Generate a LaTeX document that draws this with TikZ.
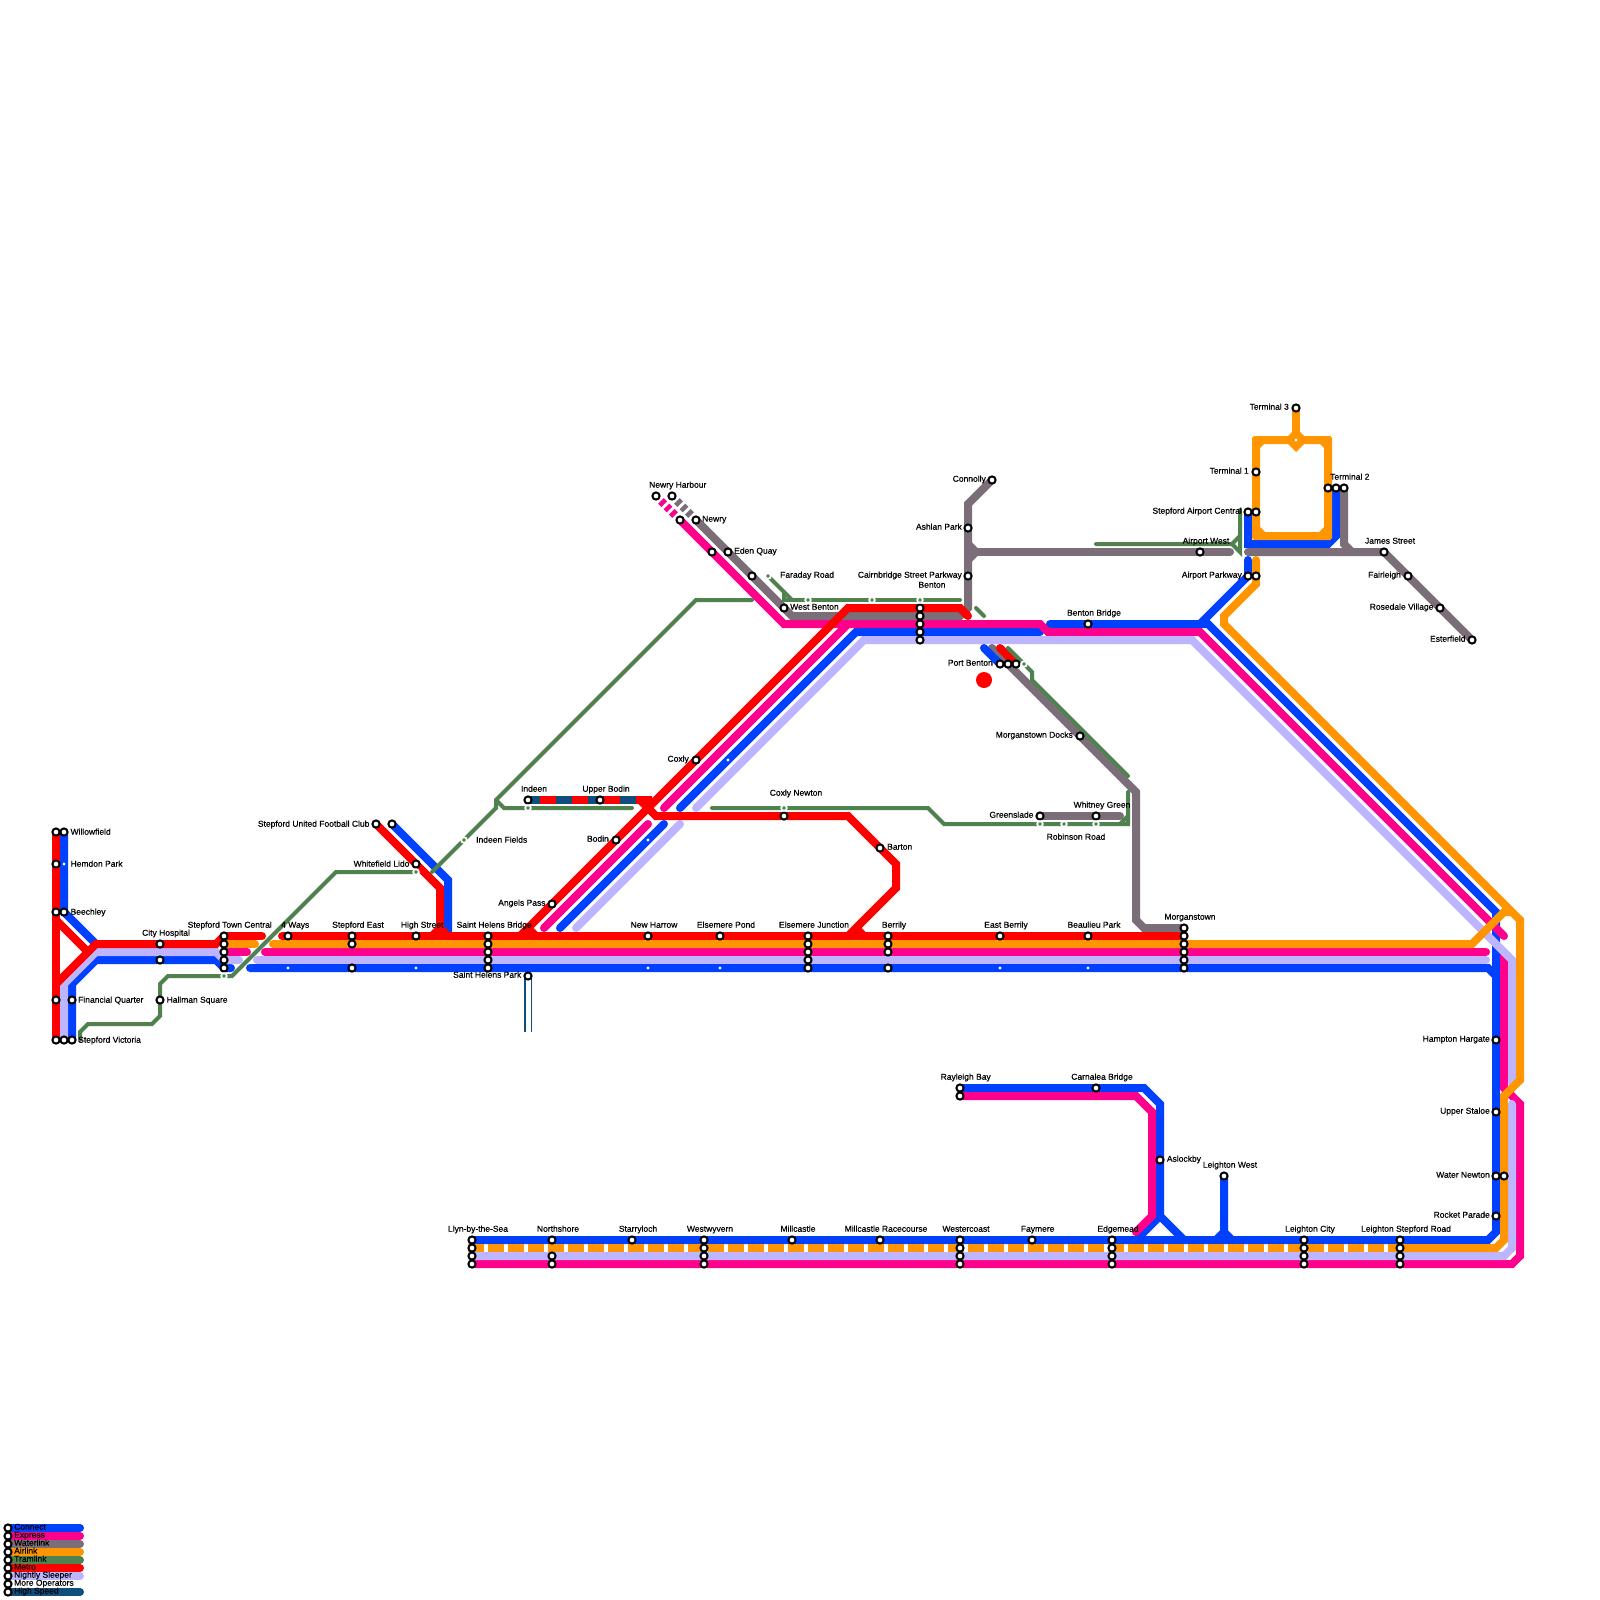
\documentclass[tikz,border=0pt]{standalone}
\usepackage{fontspec}
\setmainfont{Liberation Sans}[FakeBold=0.45]
\pgfdeclarelayer{lines}
\pgfsetlayers{lines,main}
\definecolor{conn}{HTML}{0040FF}
\definecolor{expr}{HTML}{FF008C}
\definecolor{watr}{HTML}{7C6E78}
\definecolor{airl}{HTML}{FF9500}
\definecolor{tram}{HTML}{50824F}
\definecolor{metr}{HTML}{FF0000}
\definecolor{slee}{HTML}{BDB5FF}
\definecolor{hisp}{HTML}{104E7E}
\newcounter{lblc}\newcounter{dotc}
\newcommand\lbl[4]{\stepcounter{lblc}\node[lab,anchor=#1] (lbl\arabic{lblc}) at (#2,#3) {#4};}
\newcommand\wdot[2]{\stepcounter{dotc}\node[wdotst] (dot\arabic{dotc}) at (#1,#2) {};}
\newcommand\tdot[2]{\stepcounter{dotc}\node[tdotst] (dot\arabic{dotc}) at (#1,#2) {};}
\newcommand\stack[3]{\foreach \yy/\nn in {#3}{\node[stn] (#1\nn) at (#2,\yy) {};}}
\tikzset{
 stn/.style={circle,draw=black,fill=white,line width=2,minimum size=7.2,inner sep=0},
 wdotst/.style={circle,fill=white,minimum size=3.2,inner sep=0},
 tdotst/.style={circle,fill=tram,draw=white,line width=1.8,minimum size=5.6,inner sep=0},
 lab/.style={inner sep=0,yshift=-0.5pt,text height=6.2,text depth=1.8,font=\fontsize{8.5}{10}\selectfont,text=black},
 ln/.style={line width=8,line join=miter,line cap=round,miter limit=10},
 blue/.style={ln,draw=conn},
 pink/.style={ln,draw=expr},
 grey/.style={ln,draw=watr},
 oran/.style={ln,draw=airl},
 redl/.style={ln,draw=metr},
 lave/.style={ln,draw=slee},
 trl/.style={line width=4,line join=miter,line cap=round,draw=tram},
 navy/.style={ln,draw=hisp},
}
\begin{document}
\begin{tikzpicture}[x=1pt,y=-1pt]
\useasboundingbox (0,0) rectangle (1600,1600);
% ---- stations
\stack{wf}{56}{832/a}\stack{wf}{64}{832/b}
\stack{he}{56}{864/a}
\stack{be}{56}{912/a}\stack{be}{64}{912/b}
\stack{fq}{56}{1000/a}\stack{fq}{72}{1000/b}
\stack{sv}{56}{1040/a}\stack{sv}{64}{1040/b}\stack{sv}{72}{1040/c}
\stack{ch}{160}{944/a,960/b}
\stack{st}{224}{936/a,944/b,952/c,960/d,968/e}
\stack{hs}{160}{1000/a}
\stack{wa}{288}{936/a}
\stack{se}{352}{936/a,944/b,968/c}
\stack{hi}{416}{936/a}
\stack{sh}{488}{936/a,944/b,952/c,960/d,968/e}
\stack{sp}{528}{976/a}
\stack{su}{376}{824/a}\stack{su}{392}{824/b}
\stack{wl}{416}{864/a}
\stack{nw}{648}{936/a}
\stack{ep}{720}{936/a}
\stack{ej}{808}{936/a,944/b,952/c,960/d,968/e}
\stack{br}{888}{936/a,944/b,952/c,968/e}
\stack{eb}{1000}{936/a}
\stack{bp}{1088}{936/a}
\stack{mo}{1184}{928/z,936/a,944/b,952/c,960/d,968/e}
\stack{in}{528}{800/a}
\stack{ub}{600}{800/a}
\stack{bo}{616}{840/a}
\stack{ap}{552}{904/a}
\stack{co}{696}{760/a}
\stack{cn}{784}{816/a}
\stack{ba}{880}{848/a}
\stack{nh}{656}{496/a}\stack{nh}{672}{496/b}
\stack{ny}{680}{520/a}\stack{ny}{696}{520/b}
\stack{eq}{712}{552/a}\stack{eq}{728}{552/b}
\stack{fr}{752}{576/a}
\stack{wb}{784}{608/a}
\stack{bn}{920}{608/a,616/b,624/c,632/d,640/e}
\stack{cl}{992}{480/a}
\stack{as}{968}{528/a}
\stack{cs}{968}{576/a}
\stack{pb}{1000}{664/a}\stack{pb}{1008}{664/b}\stack{pb}{1016}{664/c}
\stack{md}{1080}{736/a}
\stack{gs}{1040}{816/a}
\stack{wg}{1096}{816/a}
\stack{bb}{1088}{624/a}
\stack{aw}{1200}{552/a}
\stack{sa}{1248}{512/a}\stack{sa}{1256}{512/b}
\stack{pk}{1248}{576/a}\stack{pk}{1256}{576/b}
\stack{tt}{1256}{472/a}
\stack{tc}{1296}{408/a}
\stack{td}{1328}{488/a}\stack{td}{1336}{488/b}\stack{td}{1344}{488/c}
\stack{js}{1384}{552/a}
\stack{fa}{1408}{576/a}
\stack{rv}{1440}{608/a}
\stack{es}{1472}{640/a}
\stack{hh}{1496}{1040/a}
\stack{us}{1496}{1112/a}
\stack{wn}{1496}{1176/a}\stack{wn}{1504}{1176/b}
\stack{rp}{1496}{1216/a}
\stack{al}{1160}{1160/a}
\stack{lw}{1224}{1176/a}
\stack{cb}{1096}{1088/a}
\stack{rb}{960}{1088/a,1096/b}
\stack{ll}{472}{1240/a,1248/b,1256/c,1264/d}
\stack{ns}{552}{1240/a,1256/c,1264/d}
\stack{sl}{632}{1240/a}
\stack{ww}{704}{1240/a,1248/b,1256/c,1264/d}
\stack{mc}{792}{1240/a}
\stack{mr}{880}{1240/a}
\stack{wc}{960}{1240/a,1248/b,1256/c,1264/d}
\stack{fy}{1032}{1240/a}
\stack{em}{1112}{1240/a,1248/b,1256/c,1264/d}
\stack{lc}{1304}{1240/a,1248/b,1256/c,1264/d}
\stack{lr}{1400}{1240/a,1248/b,1256/c,1264/d}
% legend
\stack{k}{8}{1528/a,1536/b,1544/c,1552/d,1560/e,1568/f,1576/g,1584/h,1592/i}
% ---- lines
\begin{pgfonlayer}{lines}
\fill[white] (0,0) rectangle (1600,1600);
% connect
\draw[blue] (wfb.center) -- (beb.center) -- (96,944);
\draw[blue] (svc.center) -- (72,984) -- (96,960) -- (216,960) -- (ste.center) -- (231,968);
\draw[blue] (250,968) -- (1488,968) -- (1496,976);
\draw[blue] (sub.center) -- (448,880) -- (448,932);
\draw[blue] (560,928) -- (664,824);
\draw[blue] (680,808) -- (856,632) -- (1040,632);
\draw[blue] (1050,624) -- (1208,624) -- (1496,912) -- (1496,1232) -- (1488,1240) -- (lla.center);
\draw[blue] (pka.center) -- (1248,560);
\draw[blue] (pka.center) -- (1200,624);
\draw[blue] (saa.center) -- (1248,544) -- (1328,544) -- (1336,536) -- (tdb.center);
\draw[blue] (rba.center) -- (1144,1088) -- (1160,1104) -- (1160,1216) -- (1136,1240);
\draw[blue,line cap=butt] (1160,1216) -- (1184,1240);
\draw[blue,line cap=butt] (lwa.center) -- (1224,1232) -- (1216,1240);
\draw[blue,line cap=butt] (1224,1232) -- (1232,1240);
% express
\draw[pink] (265,952) -- (1486,952);
\draw[pink] (stc.center) -- (247,952);
\draw[pink] (nya.center) -- (784,624) -- (1040,624) -- (1048,632) -- (1200,632) -- (1504,936);
\draw[pink] (1504,952) -- (1504,1088) -- (1520,1104) -- (1520,1256) -- (1512,1264) -- (lld.center);
\draw[pink] (848,624) -- (664,808);
\draw[pink] (648,824) -- (544,928);
\draw[pink] (rbb.center) -- (1136,1096) -- (1152,1112) -- (1152,1216) -- (1136,1232);
\draw[pink,line cap=butt,dash pattern=on 0pt off 7pt on 4.5pt off 3.2pt on 4.5pt off 3.2pt on 4.5pt off 99pt] (nha.center) -- (nya.center);
% nightly sleeper
\draw[lave] (svb.center) -- (64,984) -- (96,952) -- (216,952) -- (std.center) -- (239,960);
\draw[lave] (257,960) -- (1486,960);
\draw[lave] (696,808) -- (864,640) -- (1192,640) -- (1512,960) -- (1512,1082);
\draw[lave] (680,824) -- (576,928);
\draw[lave] (1512,1104) -- (1512,1248) -- (1504,1256) -- (llc.center);
% waterlink
\draw[grey] (nyb.center) -- (792,616) -- (960,616) -- (968,608) -- (968,504) -- (cla.center);
\draw[grey,line cap=butt,dash pattern=on 0pt off 7pt on 4.5pt off 3.2pt on 4.5pt off 3.2pt on 4.5pt off 99pt] (nhb.center) -- (nyb.center);
\draw[grey,line cap=butt] (968,544) -- (976,552);
\draw[grey,line cap=butt] (968,560) -- (976,552);
\draw[grey] (976,552) -- (1230,552);
\draw[grey] (1248,552) -- (jsa.center) -- (esa.center);
\draw[grey,line cap=butt] (tdc.center) -- (1344,544) -- (1352,552);
\draw[grey] (992,648) -- (1136,792) -- (1136,920) -- (1144,928) -- (moz.center);
\draw[grey] (gsa.center) -- (1120,816);
% airlink
\draw[oran] (stb.center) -- (255,944);
\draw[oran] (273,944) -- (1472,944) -- (1504,912) -- (1512,912);
\draw[oran] (1256,560) -- (1256,584) -- (1224,616) -- (1224,624) -- (1520,920) -- (1520,1080) -- (1504,1096) -- (1504,1240) -- (1496,1248) -- (lrb.center);
\draw[oran,line cap=butt,dash pattern=on 16pt off 4pt] (468,1248) -- (lrb.center);
\fill[airl,even odd rule] (1254,436) -- (1330,436) -- (1332,438) -- (1332,538) -- (1330,540) -- (1254,540) -- (1252,538) -- (1252,438) -- cycle
 (1264,444) -- (1320,444) -- (1324,448) -- (1324,527) -- (1319,532) -- (1265,532) -- (1260,527) -- (1260,448) -- cycle;
\draw[oran,line cap=butt] (tca.center) -- (1296,440);
\fill[airl] (1288,436) -- (1296,428) -- (1304,436) -- (1304,444) -- (1296,452) -- (1288,444) -- cycle;
% high speed
\draw[navy,line cap=butt] (spa.center) -- (528,1032);
\draw[white,line width=5,line cap=butt] (spa.center) -- (528,1032);
\draw[navy,line cap=butt] (ina.center) -- (652,800);
\draw[redl,line cap=butt,dash pattern=on 16pt off 16pt] (540,800) -- (652,800);
% metro
\draw[redl] (wfa.center) -- (sva.center);
\draw[redl,line cap=butt] (56,920) -- (88,952);
\draw[redl,line cap=butt] (56,984) -- (96,944) -- (216,944) -- (sta.center);
\draw[redl] (282,936) -- (moa.center);
\draw[redl] (sta.center) -- (262,936);
\draw[redl] (sua.center) -- (440,888) -- (440,928) -- (432,936);
\draw[redl,line cap=butt] (440,928) -- (448,936);
\draw[redl,line cap=butt] (968,616) -- (960,608) -- (848,608) -- (520,936);
\draw[redl] (968,616) -- (960,608);
\draw[redl,line cap=butt] (528,928) -- (536,936);
\draw[redl,line cap=butt] (640,800) -- (656,816) -- (848,816) -- (896,864) -- (896,888) -- (848,936);
\draw[redl,line cap=butt] (856,928) -- (864,936);
\draw[redl] (pbc.center) -- (1000,648);
\draw[blue] (pba.center) -- (984,648);
\fill[metr] (984,680) circle (8);
% tramlink
\draw[trl] (svc.center) ++(8,0) -- (80,1032) -- (88,1024) -- (152,1024) -- (160,1016) -- (160,984) -- (168,976) -- (232,976) -- (336,872) -- (416,872);
\draw[trl] (432,872) -- (496,808) -- (496,800) -- (696,600) -- (752,600);
\draw[trl] (496,800) -- (504,808) -- (632,808);
\draw[trl] (712,808) -- (928,808) -- (944,824) -- (1128,824) -- (1128,792);
\draw[trl,line cap=butt] (1120,824) -- (1128,816);
\draw[trl] (768,576) -- (792,600);
\draw[trl] (784,600) -- (784,592);
\draw[trl] (784,600) -- (960,600);
\draw[trl] (976,608) -- (984,616);
\draw[trl] (1008,648) -- (1032,672) -- (1032,680) -- (1128,776);
\draw[trl] (1096,544) -- (1232,544) -- (1240,536);
\draw[trl] (1232,544) -- (1240,552) -- (1240,510);
% legend bars
\foreach \yy/\cc in {1528/conn,1536/expr,1544/watr,1552/airl,1560/tram,1568/metr,1576/slee,1592/hisp}{\draw[ln,draw=\cc] (8,\yy) -- (80,\yy);}
\end{pgfonlayer}
% ---- interchange dots
\wdot{64}{864}\wdot{288}{968}\wdot{416}{968}\wdot{648}{968}\wdot{720}{968}\wdot{1000}{968}\wdot{1088}{968}
\wdot{648}{840}\wdot{728}{760}\wdot{1296}{440}
\tdot{224}{976}\tdot{416}{872}\tdot{464}{840}\tdot{528}{808}\tdot{784}{808}\tdot{768}{576}
\tdot{808}{600}\tdot{872}{600}\tdot{920}{600}\tdot{1024}{664}\tdot{1040}{824}\tdot{1064}{824}\tdot{1096}{824}
% ---- labels
\lbl{west}{70.4}{832}{Willowfield}
\lbl{west}{70.4}{864}{Hemdon Park}
\lbl{west}{70.4}{912}{Beechley}
\lbl{west}{78}{1000}{Financial Quarter}
\lbl{west}{78}{1040}{Stepford Victoria}
\lbl{center}{166}{933}{City Hospital}
\lbl{west}{187.5}{925}{Stepford Town Central}
\lbl{west}{281}{925}{4 Ways}
\lbl{center}{358}{925}{Stepford East}
\lbl{west}{400.7}{925}{High Street}
\lbl{west}{456.4}{925}{Saint Helens Bridge}
\lbl{east}{521.4}{975}{Saint Helens Park}
\lbl{west}{166.4}{1000}{Hallman Square}
\lbl{east}{409.6}{864}{Whitefield Lido}
\lbl{east}{369.6}{824}{Stepford United Football Club}
\lbl{west}{476}{840}{Indeen Fields}
\lbl{center}{534}{789}{Indeen}
\lbl{center}{606}{789}{Upper Bodin}
\lbl{west}{649}{485}{Newry Harbour}
\lbl{west}{702}{519}{Newry}
\lbl{west}{734}{551}{Eden Quay}
\lbl{west}{780}{575}{Faraday Road}
\lbl{west}{790}{607}{West Benton}
\lbl{east}{986}{479}{Connolly}
\lbl{east}{962}{527}{Ashlan Park}
\lbl{east}{962}{575}{Cairnbridge Street Parkway}
\lbl{center}{932}{585}{Benton}
\lbl{east}{689}{759}{Coxly}
\lbl{east}{609}{839}{Bodin}
\lbl{center}{796}{793}{Coxly Newton}
\lbl{west}{887}{847}{Barton}
\lbl{east}{1033.6}{815}{Greenslade}
\lbl{east}{545.7}{903}{Angels Pass}
\lbl{center}{654}{925}{New Harrow}
\lbl{center}{726}{925}{Elsemere Pond}
\lbl{center}{814}{925}{Elsemere Junction}
\lbl{center}{894}{925}{Berrily}
\lbl{center}{1006}{925}{East Berrily}
\lbl{center}{1094}{925}{Beaulieu Park}
\lbl{center}{1190}{917}{Morganstown}
\lbl{center}{1076}{837}{Robinson Road}
\lbl{center}{1102}{805}{Whitney Green}
\lbl{east}{1073}{735}{Morganstown Docks}
\lbl{east}{993}{663}{Port Benton}
\lbl{center}{1094}{613}{Benton Bridge}
\lbl{center}{1206}{541}{Airport West}
\lbl{east}{1242}{511}{Stepford Airport Central}
\lbl{east}{1242}{575}{Airport Parkway}
\lbl{east}{1249}{471}{Terminal 1}
\lbl{west}{1330}{477}{Terminal 2}
\lbl{east}{1289}{407}{Terminal 3}
\lbl{center}{1390}{541}{James Street}
\lbl{east}{1401}{575}{Fairleigh}
\lbl{east}{1433.6}{607}{Rosedale Village}
\lbl{east}{1465.7}{639}{Esterfield}
\lbl{east}{1490}{1039}{Hampton Hargate}
\lbl{east}{1490}{1111}{Upper Staloe}
\lbl{east}{1490}{1175}{Water Newton}
\lbl{east}{1490}{1215}{Rocket Parade}
\lbl{west}{1166.7}{1159}{Aslockby}
\lbl{center}{1230}{1165}{Leighton West}
\lbl{center}{1102}{1077}{Carnalea Bridge}
\lbl{center}{965.7}{1077}{Rayleigh Bay}
\lbl{center}{478}{1229}{Llyn-by-the-Sea}
\lbl{center}{558}{1229}{Northshore}
\lbl{center}{638}{1229}{Starryloch}
\lbl{center}{710}{1229}{Westwyvern}
\lbl{center}{798}{1229}{Millcastle}
\lbl{center}{886}{1229}{Millcastle Racecourse}
\lbl{center}{966}{1229}{Westercoast}
\lbl{center}{1037.6}{1229}{Faymere}
\lbl{center}{1118}{1229}{Edgemead}
\lbl{center}{1310}{1229}{Leighton City}
\lbl{center}{1406}{1229}{Leighton Stepford Road}
\lbl{west}{14}{1527}{Connect}
\lbl{west}{14}{1535}{Express}
\lbl{west}{14}{1543}{Waterlink}
\lbl{west}{14}{1551}{Airlink}
\lbl{west}{14}{1559}{Tramlink}
\lbl{west}{14}{1567}{Metro}
\lbl{west}{14}{1575}{Nightly Sleeper}
\lbl{west}{14}{1583}{More Operators}
\lbl{west}{14}{1591}{High Speed}
\end{tikzpicture}
\end{document}
